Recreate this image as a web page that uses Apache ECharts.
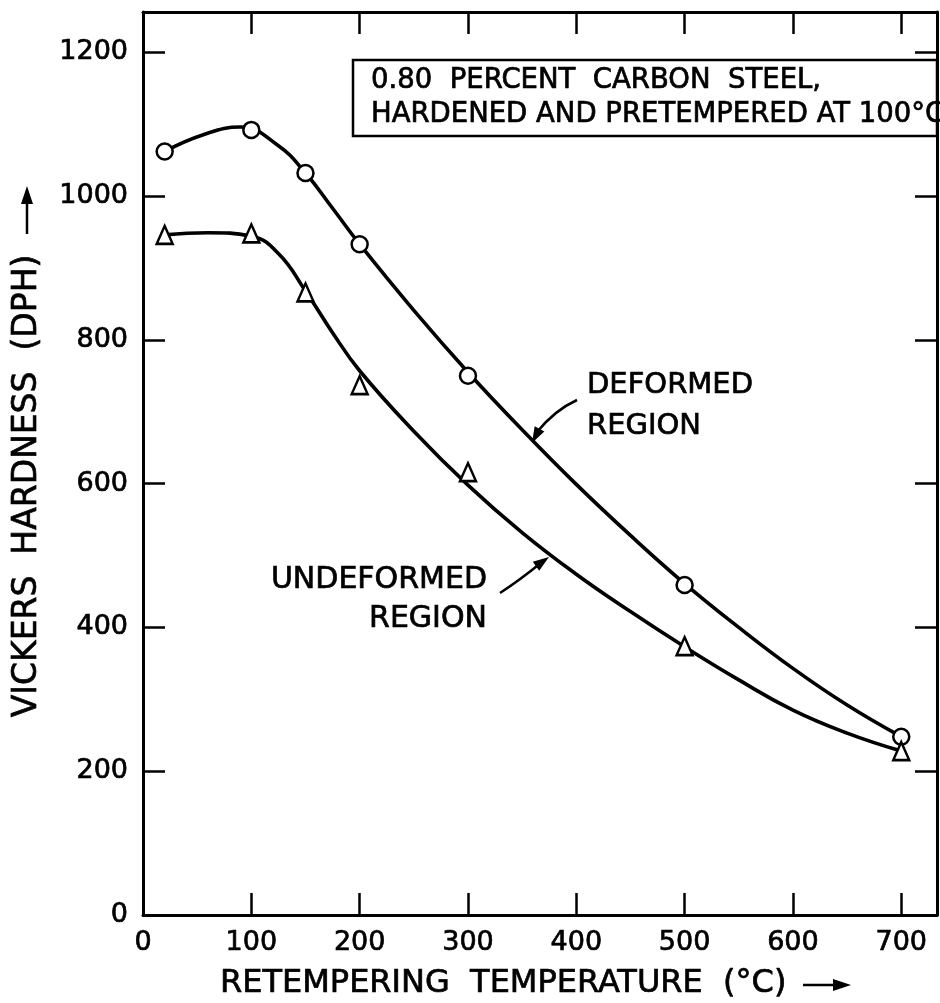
<!DOCTYPE html>
<html>
<head>
<meta charset="utf-8">
<script src="https://cdn.jsdelivr.net/npm/echarts@6/dist/echarts.min.js"></script>
<style>
  html, body { margin: 0; padding: 0; background: #fff; }
  #chart { width: 940px; height: 1003px; }
</style>
</head>
<body>
<div id="chart"></div>
<script>
// Measured hardness at each retempering temperature (°C)
const temperatures = [20, 100, 150, 200, 300, 500, 700];
const deformedHardness = [1062, 1092, 1032, 933, 750, 459, 248];
const undeformedHardness = [946, 948, 866, 737, 616, 374, 228];

// Faired curves drawn through the measurements
const deformedCurveTemp = [20, 55, 90, 125, 150, 175, 200, 250, 300, 350, 400, 450, 500, 550, 600, 650, 700];
const deformedCurveHardness = [1062, 1085, 1096, 1070, 1032, 983, 933, 841, 755, 675, 599, 528, 461, 400, 343, 292, 248];
const undeformedCurveTemp = [20, 60, 100, 125, 150, 175, 200, 250, 300, 350, 400, 450, 500, 550, 600, 650, 700];
const undeformedCurveHardness = [946, 949, 944, 920, 868, 810, 757, 673, 598, 532, 474, 422, 373, 327, 285, 253, 228];

// Axis tick labels
const xTickLabels = [0, 100, 200, 300, 400, 500, 600, 700];
const yTickLabels = [0, 200, 400, 600, 800, 1000, 1200];

const FONT = 'DejaVu Sans';
const INK = '#000';
const TEXT_WEIGHT = 0.7; // thin outline that thickens the lettering

const zip = (xs, ys) => xs.map((x, i) => [x, ys[i]]);

// Filled arrow head: tip point and a point back along the shaft
function arrowHead(tip, back, len, half) {
  const dx = tip[0] - back[0], dy = tip[1] - back[1];
  const d = Math.hypot(dx, dy);
  const ux = dx / d, uy = dy / d;
  const bx = tip[0] - ux * len, by = tip[1] - uy * len;
  return [tip, [bx - uy * half, by + ux * half], [bx + uy * half, by - ux * half]];
}

const axisLineStyle = { onZero: false, lineStyle: { color: INK, width: 3 } };
const axisTickStyle = { inside: true, length: 22, lineStyle: { color: INK, width: 2.5 } };

function xAxisDef(position, showLabels) {
  return {
    type: 'value', position, min: 0, max: 733, interval: 100,
    axisLine: axisLineStyle, axisTick: axisTickStyle, splitLine: { show: false },
    axisLabel: {
      show: showLabels, margin: 14, color: INK, fontFamily: FONT, fontSize: 27,
      textBorderColor: INK, textBorderWidth: TEXT_WEIGHT,
      formatter: v => (xTickLabels.includes(v) ? String(v) : '')
    }
  };
}
function yAxisDef(position, showLabels) {
  return {
    type: 'value', position, min: 0, max: 1256, interval: 200,
    axisLine: axisLineStyle, axisTick: axisTickStyle, splitLine: { show: false },
    axisLabel: {
      show: showLabels, margin: 15, color: INK, fontFamily: FONT, fontSize: 27,
      textBorderColor: INK, textBorderWidth: TEXT_WEIGHT,
      formatter: v => (yTickLabels.includes(v) ? String(v) : '')
    }
  };
}

const textStyle = (size, extra) => Object.assign(
  { fill: INK, stroke: INK, lineWidth: TEXT_WEIGHT, font: size + 'px "' + FONT + '"' },
  extra || {}
);

const chart = echarts.init(document.getElementById('chart'), null, { renderer: 'canvas' });

const option = {
  animation: false,
  backgroundColor: '#fff',
  grid: { left: 143, top: 12, right: 3, bottom: 88, show: false },
  xAxis: [xAxisDef('bottom', true), xAxisDef('top', false)],
  yAxis: [yAxisDef('left', true), yAxisDef('right', false)],
  series: [
    {
      name: 'Deformed region curve', type: 'line', silent: true, z: 2,
      data: zip(deformedCurveTemp, deformedCurveHardness),
      smooth: 0.45, symbol: 'none',
      lineStyle: { color: INK, width: 3.6 }
    },
    {
      name: 'Undeformed region curve', type: 'line', silent: true, z: 2,
      data: zip(undeformedCurveTemp, undeformedCurveHardness),
      smooth: 0.45, symbol: 'none',
      lineStyle: { color: INK, width: 3.6 }
    },
    {
      name: 'Deformed region', type: 'scatter', z: 3,
      data: zip(temperatures, deformedHardness),
      symbol: 'circle', symbolSize: 16,
      itemStyle: { color: '#fff', borderColor: INK, borderWidth: 2.5, opacity: 1 }
    },
    {
      name: 'Undeformed region', type: 'scatter', z: 3,
      data: zip(temperatures, undeformedHardness),
      symbol: 'triangle', symbolSize: [16, 18],
      itemStyle: { color: '#fff', borderColor: INK, borderWidth: 2.5, opacity: 1 }
    }
  ],
  graphic: [
    // Specimen note box, closed by the right frame line
    { type: 'rect', shape: { x: 353, y: 60, width: 584, height: 76 }, style: { fill: '#fff', stroke: INK, lineWidth: 2.5 }, z: 10 },
    { type: 'text', x: 371, y: 81, style: textStyle(27.5, { text: '0.80  PERCENT  CARBON  STEEL,', textVerticalAlign: 'middle' }), z: 11 },
    { type: 'text', x: 371, y: 115, style: textStyle(27.5, { text: 'HARDENED AND PRETEMPERED AT 100°C', textVerticalAlign: 'middle' }), z: 11 },

    // Curve callouts
    { type: 'text', x: 587, y: 385, style: textStyle(29, { text: 'DEFORMED', textVerticalAlign: 'middle' }), z: 11 },
    { type: 'text', x: 587, y: 426, style: textStyle(29, { text: 'REGION', textVerticalAlign: 'middle' }), z: 11 },
    { type: 'bezierCurve', shape: { x1: 577, y1: 400, x2: 537, y2: 432, cpx1: 555, cpy1: 410 }, style: { stroke: INK, lineWidth: 2.5, fill: null }, z: 11 },
    { type: 'polygon', shape: { points: arrowHead([532, 443], [540, 428], 16, 5.5) }, style: { fill: INK }, z: 11 },

    { type: 'text', x: 487, y: 580, style: textStyle(30, { text: 'UNDEFORMED', textAlign: 'right', textVerticalAlign: 'middle' }), z: 11 },
    { type: 'text', x: 487, y: 619, style: textStyle(30, { text: 'REGION', textAlign: 'right', textVerticalAlign: 'middle' }), z: 11 },
    { type: 'bezierCurve', shape: { x1: 500, y1: 593, x2: 542, y2: 562, cpx1: 520, cpy1: 580 }, style: { stroke: INK, lineWidth: 2.5, fill: null }, z: 11 },
    { type: 'polygon', shape: { points: arrowHead([549, 557], [535, 567], 16, 5.5) }, style: { fill: INK }, z: 11 },

    // Axis titles with direction arrows
    { type: 'text', x: 27, y: 486, rotation: Math.PI / 2, style: textStyle(33, { text: 'VICKERS  HARDNESS  (DPH)', textAlign: 'center', textVerticalAlign: 'middle' }), z: 11 },
    { type: 'line', shape: { x1: 27, y1: 234, x2: 27, y2: 200 }, style: { stroke: INK, lineWidth: 2.5 }, z: 11 },
    { type: 'polygon', shape: { points: arrowHead([27, 186], [27, 200], 18, 6) }, style: { fill: INK }, z: 11 },

    { type: 'text', x: 220, y: 984, style: textStyle(32, { text: 'RETEMPERING  TEMPERATURE  (°C)', textVerticalAlign: 'middle' }), z: 11 },
    { type: 'line', shape: { x1: 803, y1: 985, x2: 836, y2: 985 }, style: { stroke: INK, lineWidth: 2.5 }, z: 11 },
    { type: 'polygon', shape: { points: arrowHead([851, 985], [836, 985], 18, 6) }, style: { fill: INK }, z: 11 }
  ]
};

chart.setOption(option);
</script>
</body>
</html>
